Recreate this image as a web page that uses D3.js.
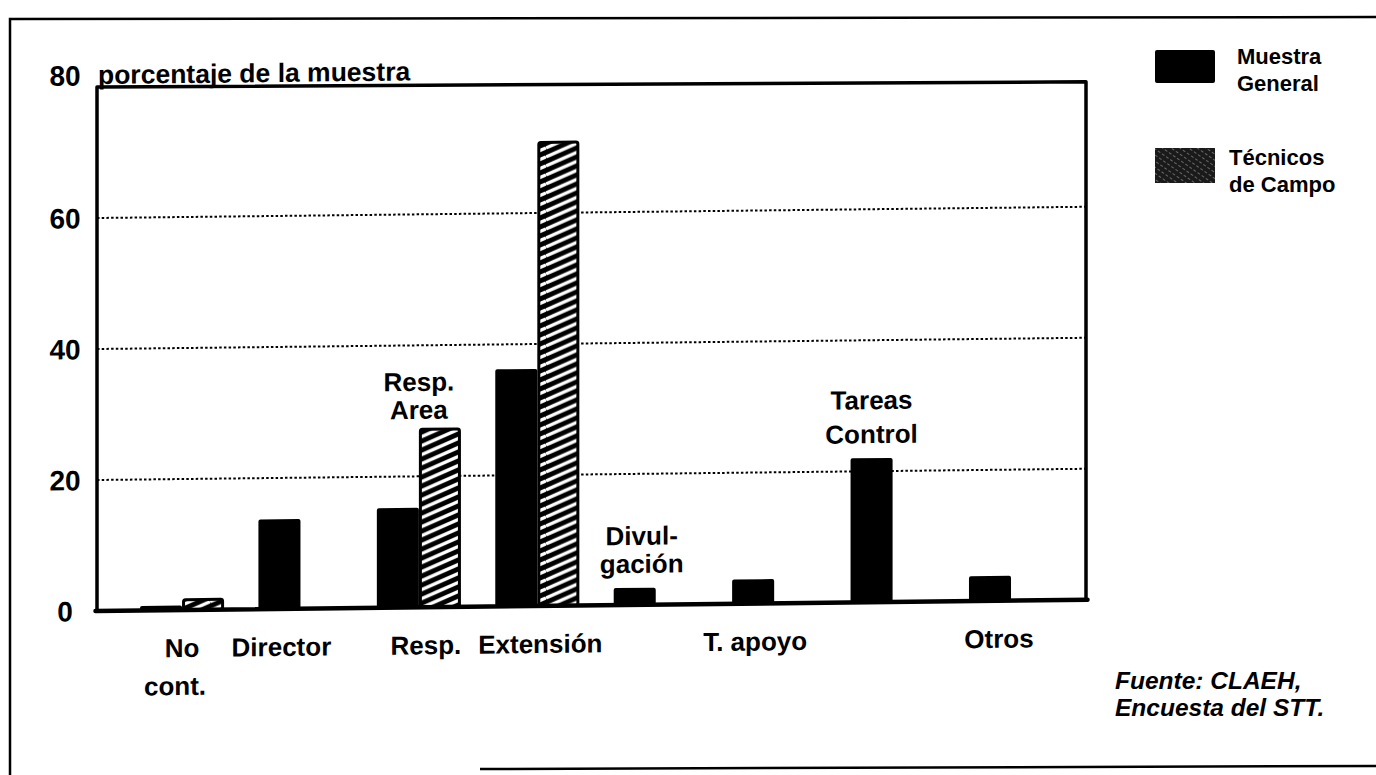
<!DOCTYPE html>
<html>
<head>
<meta charset="utf-8">
<script src="https://cdn.jsdelivr.net/npm/d3@7"></script>
<style>
  html, body { margin: 0; padding: 0; background: #fff; }
  svg { display: block; font-family: "Liberation Sans", Arial, Helvetica, sans-serif; }
</style>
</head>
<body>
<svg id="chart" width="1376" height="775"></svg>
<script>
// ---- data ----
const categories = ["No cont.", "Director", "Resp. Area", "Resp. Extensión", "Divulgación", "T. apoyo", "Tareas Control", "Otros"];
const muestraGeneral = [0.7, 13.7, 15.2, 36.2, 2.6, 3.7, 22.0, 3.8];
const tecnicosCampo  = [1.8, null, 27.4, 71.0, null, null, null, null];
const yTicks = [0, 20, 40, 60, 80];
const gridValues = [20, 40, 60];
const labelsAbove = [[], [], ["Resp.", "Area"], [], ["Divul-", "gación"], [], ["Tareas", "Control"], []];
const labelsBelow = [["No", "cont."], ["Director"], ["Resp."], ["Extensión"], [], ["T. apoyo"], [], ["Otros"]];
const seriesNames = [["Muestra", "General"], ["Técnicos", "de Campo"]];
const sourceLines = ["Fuente: CLAEH,", "Encuesta del STT."];
const yTitle = "porcentaje de la muestra";

// ---- layout ----
const plot = { left: 97, right: 1086, top: 87, bottom: 611 };
// label placement tweaks (horizontal nudge, gap above bar, line spacing)
const aboveLayout = [null, null, { dx: 0, gap: 9, lead: 28 }, null, { dx: 7, gap: 15, lead: 28 }, null, { dx: 0, gap: 15, lead: 34 }, null];
const belowNudge = [[0, -7], [2], [7], [3], [], [2], [], [9]];

const svg = d3.select("#chart");

const defs = svg.append("defs");
// diagonal hatch used in the bars
const tileW = 42, tileH = 9, rise = 18;
const hatch = defs.append("pattern")
  .attr("id", "hatch").attr("patternUnits", "userSpaceOnUse")
  .attr("width", tileW).attr("height", tileH);
hatch.append("rect").attr("width", tileW).attr("height", tileH).attr("fill", "#000");
d3.range(-3, 3).forEach(k => {
  hatch.append("line")
    .attr("x1", 0).attr("y1", tileH * k + rise)
    .attr("x2", tileW).attr("y2", tileH * k)
    .attr("stroke", "#fff").attr("stroke-width", 3.4);
});
// fine dark hatch for the legend swatch
const lhatch = defs.append("pattern")
  .attr("id", "legendHatch").attr("patternUnits", "userSpaceOnUse")
  .attr("width", 5).attr("height", 5)
  .attr("patternTransform", "rotate(-55)");
lhatch.append("rect").attr("width", 5).attr("height", 5).attr("fill", "#1a1a1a");
lhatch.append("line").attr("x1", 0).attr("y1", 0).attr("x2", 0).attr("y2", 5)
  .attr("stroke", "#c8c8c8").attr("stroke-width", 0.9).attr("stroke-dasharray", "3,2");

// outer frame
svg.append("path")
  .attr("d", "M1376,17 L10,19 L10,775 M480,769 L1376,766")
  .attr("fill", "none").attr("stroke", "#000").attr("stroke-width", 2.5);

// plot group, slightly sheared like the printed page
const g = svg.append("g")
  .attr("transform", `translate(${plot.left},${plot.bottom}) skewY(-0.65) translate(${-plot.left},${-plot.bottom})`);

const y = d3.scaleLinear().domain([0, 80]).range([plot.bottom, plot.top]);
const x = d3.scaleBand().domain(categories).range([140, 1087.4]).paddingInner(0).paddingOuter(0);
const barW = x.bandwidth() * 0.355;

// dotted gridlines
g.append("g").selectAll("line").data(gridValues).join("line")
  .attr("x1", plot.left).attr("x2", plot.right)
  .attr("y1", d => y(d)).attr("y2", d => y(d))
  .attr("stroke", "#000").attr("stroke-width", 2)
  .attr("stroke-dasharray", "2.5,2.2");

// bars: general sample (solid)
g.append("g").selectAll("rect").data(categories).join("rect")
  .attr("x", d => x(d))
  .attr("y", (d, i) => y(muestraGeneral[i]))
  .attr("width", barW)
  .attr("height", (d, i) => y(0) - y(muestraGeneral[i]))
  .attr("rx", 2)
  .attr("fill", "#000");

// bars: field technicians (hatched)
const tecData = categories.map((c, i) => ({ c, v: tecnicosCampo[i] })).filter(d => d.v != null);
g.append("g").selectAll("rect").data(tecData).join("rect")
  .attr("x", d => x(d.c) + barW + 1.5)
  .attr("y", d => y(d.v) + 1.5)
  .attr("width", barW - 3)
  .attr("height", d => y(0) - y(d.v) - 1.5)
  .attr("rx", 2)
  .attr("fill", "url(#hatch)")
  .attr("stroke", "#000").attr("stroke-width", 3);

// plot frame (the top edge runs a little flatter than the rest)
const frame = d3.path();
frame.moveTo(plot.left, plot.bottom);
frame.lineTo(plot.left, plot.top);
frame.lineTo(plot.right, plot.top + 6);
frame.lineTo(plot.right, plot.bottom);
g.append("path").attr("d", frame.toString())
  .attr("fill", "none").attr("stroke", "#000").attr("stroke-width", 3.5)
  .attr("stroke-linejoin", "round");
g.append("line")
  .attr("x1", plot.left - 1.5).attr("x2", plot.right + 1.5)
  .attr("y1", plot.bottom).attr("y2", plot.bottom)
  .attr("stroke", "#000").attr("stroke-width", 4.5).attr("stroke-linecap", "round");

// y axis tick labels
const axis = g.append("g")
  .attr("transform", `translate(${plot.left},0)`)
  .call(d3.axisLeft(y).tickValues(yTicks).tickSize(0).tickFormat(d3.format("d")));
axis.select(".domain").remove();
axis.selectAll("text")
  .attr("x", -32)
  .attr("text-anchor", "middle")
  .attr("font-family", "'Liberation Sans', Arial, sans-serif")
  .attr("font-size", 28).attr("font-weight", "bold").attr("fill", "#000")
  .attr("dy", d => d === 80 ? "-0.08em" : "0.34em");

// axis title sitting on the frame
g.append("text")
  .attr("x", plot.left + 1).attr("y", plot.top - 3)
  .attr("font-size", 26.5).attr("font-weight", "bold")
  .text(yTitle);

// category labels
function center(i) {
  const c = categories[i];
  return tecnicosCampo[i] != null ? x(c) + barW : x(c) + barW / 2;
}
labelsBelow.forEach((lines, i) => {
  lines.forEach((t, j) => {
    g.append("text")
      .attr("x", center(i) + belowNudge[i][j])
      .attr("y", 658 + j * 38)
      .attr("text-anchor", "middle")
      .attr("font-size", 26).attr("font-weight", "bold")
      .text(t);
  });
});
labelsAbove.forEach((lines, i) => {
  if (!lines.length) return;
  const lay = aboveLayout[i];
  const top = Math.min(y(muestraGeneral[i]), tecnicosCampo[i] != null ? y(tecnicosCampo[i]) : Infinity);
  const n = lines.length;
  lines.forEach((t, j) => {
    g.append("text")
      .attr("x", center(i) + lay.dx)
      .attr("y", top - lay.gap - (n - 1 - j) * lay.lead)
      .attr("text-anchor", "middle")
      .attr("font-size", 26).attr("font-weight", "bold")
      .text(t);
  });
});

// legend
const legend = svg.append("g");
legend.append("rect").attr("x", 1155).attr("y", 50).attr("width", 60).attr("height", 33)
  .attr("rx", 2).attr("fill", "#000");
legend.append("rect").attr("x", 1155).attr("y", 148).attr("width", 60).attr("height", 35)
  .attr("fill", "url(#legendHatch)");
const legendText = [{ x: 1237, y: 64 }, { x: 1229, y: 165 }];
seriesNames.forEach((lines, i) => {
  lines.forEach((t, j) => {
    legend.append("text")
      .attr("x", legendText[i].x).attr("y", legendText[i].y + j * 27)
      .attr("font-size", 22).attr("font-weight", "bold")
      .text(t);
  });
});

// source note
sourceLines.forEach((t, j) => {
  svg.append("text")
    .attr("x", 1115).attr("y", 689 + j * 27)
    .attr("font-size", 24.5).attr("font-weight", "bold").attr("font-style", "italic")
    .text(t);
});
</script>
</body>
</html>
